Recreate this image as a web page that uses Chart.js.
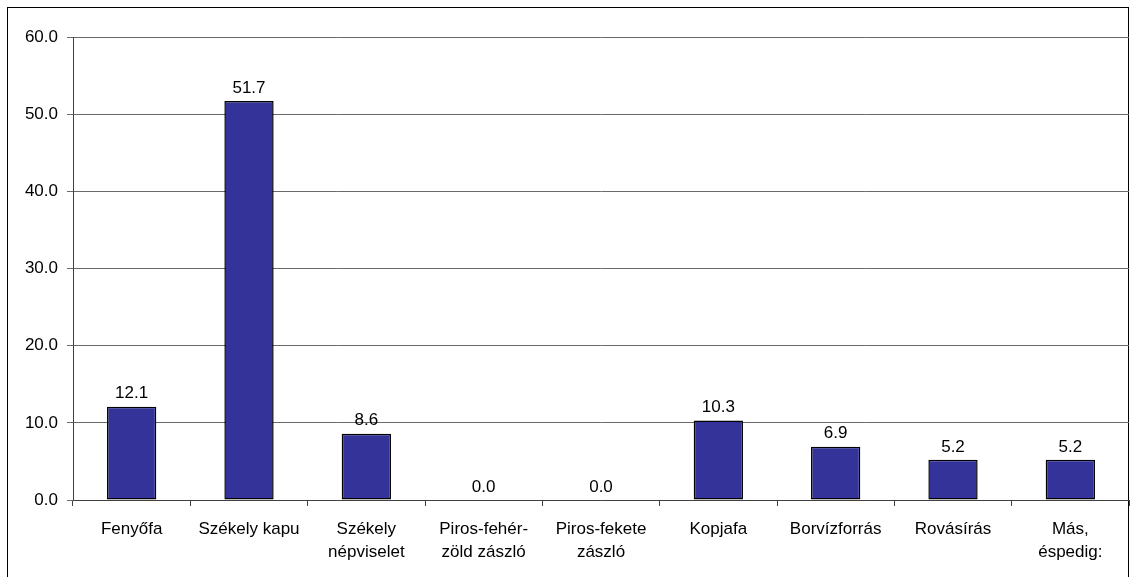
<!DOCTYPE html>
<html>
<head>
<meta charset="utf-8">
<script src="https://cdn.jsdelivr.net/npm/chart.js@4/dist/chart.umd.min.js"></script>
<style>
  html, body { margin: 0; padding: 0; background: #ffffff; }
  #wrap { width: 1130px; height: 577px; position: relative; }
</style>
</head>
<body>
<div id="wrap"><canvas id="c" width="1130" height="577"></canvas></div>
<script>
// Symbols named as most characteristic (percent of respondents)
const categories = [
  'Fenyőfa',
  'Székely kapu',
  ['Székely', 'népviselet'],
  ['Piros-fehér-', 'zöld zászló'],
  ['Piros-fekete', 'zászló'],
  'Kopjafa',
  'Borvízforrás',
  'Rovásírás',
  ['Más,', 'éspedig:']
];
const percentages = [12.1, 51.7, 8.6, 0.0, 0.0, 10.3, 6.9, 5.2, 5.2];
const yTicks = [0, 10, 20, 30, 40, 50, 60];

const FONT = '"Liberation Sans", Arial, sans-serif';

// Frame around the whole figure
const framePlugin = {
  id: 'frame',
  beforeDraw(chart) {
    const ctx = chart.ctx;
    ctx.save();
    ctx.strokeStyle = '#000000';
    ctx.lineWidth = 1;
    ctx.strokeRect(7.5, 7.5, 1121, 620);
    ctx.restore();
  }
};

// Value labels above each bar
const valueLabels = {
  id: 'valueLabels',
  afterDatasetsDraw(chart) {
    const ctx = chart.ctx;
    const meta = chart.getDatasetMeta(0);
    ctx.save();
    ctx.font = '17px ' + FONT;
    ctx.fillStyle = '#000000';
    ctx.textAlign = 'center';
    ctx.textBaseline = 'middle';
    meta.data.forEach((bar, i) => {
      ctx.fillText(percentages[i].toFixed(1), bar.x, bar.y - 13);
    });
    ctx.restore();
  }
};

new Chart(document.getElementById('c'), {
  type: 'bar',
  data: {
    labels: categories,
    datasets: [{
      data: percentages,
      backgroundColor: '#333399',
      borderColor: '#000000',
      borderWidth: 1.5,
      borderSkipped: false,
      barPercentage: 0.42,
      categoryPercentage: 1.0
    }]
  },
  options: {
    responsive: false,
    animation: false,
    devicePixelRatio: 1,
    layout: { padding: { left: 0, top: 37, right: 1, bottom: 0 } },
    plugins: {
      legend: { display: false },
      tooltip: { enabled: false }
    },
    scales: {
      x: {
        offset: true,
        grid: {
          offset: true,
          drawOnChartArea: false,
          drawTicks: true,
          tickLength: 6,
          color: '#404040'
        },
        border: { display: true, color: '#404040', width: 1 },
        ticks: {
          color: '#000000',
          font: { family: FONT, size: 17, lineHeight: 1.35 },
          padding: 12,
          maxRotation: 0,
          autoSkip: false
        },
        afterFit(scale) { scale.height = 77; }
      },
      y: {
        min: 0,
        max: 60,
        afterBuildTicks(scale) { scale.ticks = yTicks.map(v => ({ value: v })); },
        grid: {
          color: '#6a6a6a',
          drawTicks: true,
          tickLength: 6
        },
        border: { display: true, color: '#404040', width: 1 },
        ticks: {
          color: '#000000',
          font: { family: FONT, size: 17 },
          padding: 9,
          callback: v => Number(v).toFixed(1)
        },
        afterFit(scale) { scale.width = 73; }
      }
    }
  },
  plugins: [framePlugin, valueLabels]
});
</script>
</body>
</html>
